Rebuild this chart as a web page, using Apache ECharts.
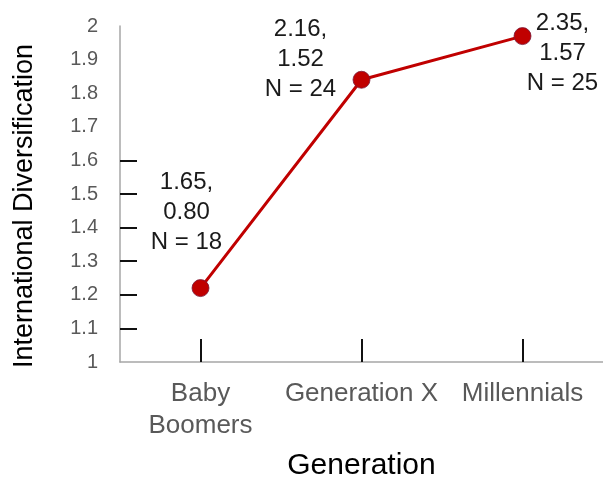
<!DOCTYPE html>
<html>
<head>
<meta charset="utf-8">
<script src="https://cdn.jsdelivr.net/npm/echarts@6/dist/echarts.min.js"></script>
<style>
  html, body { margin: 0; padding: 0; background: #fff; }
  #chart { width: 603px; height: 480px; }
</style>
</head>
<body>
<div id="chart"></div>
<script>
// Generations on the x axis
const categories = ['Baby\nBoomers', 'Generation X', 'Millennials'];
// International diversification score per generation
const diversification = [1.22, 1.84, 1.97];
// Summary statistics printed beside each point
const statA = ['1.65,', '2.16,', '2.35,'];
const statB = ['0.80', '1.52', '1.57'];
const sampleN = [18, 24, 25];
// Ticks drawn on the y axis
const yTicks = [1.1, 1.2, 1.3, 1.4, 1.5, 1.6];

// Where each annotation block sits relative to its point
const labelOffsets = [[-14, -76], [-61, -20], [40, 17]];

const FONT = '"Liberation Sans", Arial, Helvetica, sans-serif';
const RED = '#c00000';

const chart = echarts.init(document.getElementById('chart'), null, { renderer: 'canvas' });

const seriesData = diversification.map((v, i) => ({
  value: v,
  label: {
    show: true,
    position: 'inside',
    offset: labelOffsets[i],
    formatter: statA[i] + '\n' + statB[i] + '\nN = ' + sampleN[i],
    color: '#1a1a1a',
    fontSize: 24,
    lineHeight: 30,
    fontFamily: FONT,
    align: 'center',
    verticalAlign: 'middle'
  }
}));

chart.setOption({
  animation: false,
  grid: {
    left: 120, right: 0, top: 26, bottom: 118,
    containLabel: false,
    outerBoundsMode: 'none'
  },
  xAxis: {
    type: 'category',
    data: categories,
    boundaryGap: true,
    name: 'Generation',
    nameLocation: 'middle',
    nameGap: 89,
    nameTextStyle: { color: '#000', fontSize: 30, fontFamily: FONT },
    axisLine: { show: true, lineStyle: { color: '#a6a6a6', width: 1.5 } },
    axisTick: {
      show: true, alignWithLabel: true, inside: true, length: 23,
      lineStyle: { color: '#111', width: 2 }
    },
    axisLabel: {
      color: '#595959', fontSize: 26, lineHeight: 32, fontFamily: FONT,
      margin: 16, interval: 0
    },
    splitLine: { show: false }
  },
  yAxis: {
    type: 'value',
    min: 1,
    max: 2,
    interval: 0.1,
    name: 'International Diversification',
    nameLocation: 'middle',
    nameRotate: 90,
    nameGap: 82,
    nameTextStyle: {
      color: '#000', fontSize: 27, fontFamily: FONT,
      padding: [0, 24, 0, 0]
    },
    axisLine: { show: true, lineStyle: { color: '#a6a6a6', width: 1.5 } },
    axisTick: {
      show: true, inside: true, length: 17,
      customValues: yTicks,
      lineStyle: { color: '#111', width: 2 }
    },
    axisLabel: {
      color: '#595959', fontSize: 20, fontFamily: FONT, margin: 22,
      formatter: v => String(Math.round(v * 10) / 10)
    },
    splitLine: { show: false }
  },
  series: [{
    type: 'line',
    data: seriesData,
    symbol: 'circle',
    symbolSize: 17,
    lineStyle: { color: RED, width: 3 },
    itemStyle: { color: RED, borderColor: '#7a1a3a', borderWidth: 0.8 },
    z: 3
  }]
});
</script>
</body>
</html>
